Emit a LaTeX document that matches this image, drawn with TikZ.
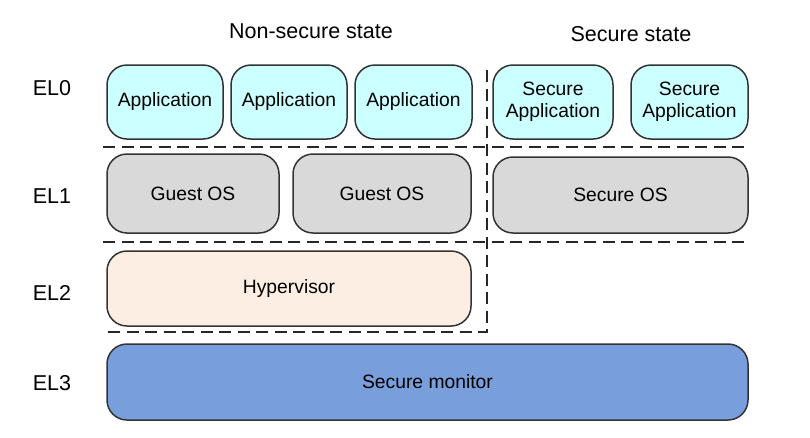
\documentclass[tikz,border=0pt]{standalone}
\usepackage{fontspec}
\setmainfont{Liberation Sans}
\begin{document}
\begin{tikzpicture}[x=1pt,y=-1pt,
  layerbox/.style={draw=black!80, line width=1.5pt, rounded corners=20pt,
    inner sep=0pt, align=center, font=\fontsize{19.3}{22.5}\selectfont},
  appbox/.style={layerbox, fill=appcyan},
  osbox/.style={layerbox, fill=osgray},
  hypbox/.style={layerbox, fill=hypcream},
  monbox/.style={layerbox, fill=monblue},
  divider/.style={draw=black!85, line width=2.2pt, dash pattern=on 12pt off 6.5pt},
  ellabel/.style={font=\fontsize{21.5}{24}\selectfont},
  statelabel/.style={font=\fontsize{21.5}{24}\selectfont}]
\definecolor{appcyan}{HTML}{CCFFFF}
\definecolor{osgray}{HTML}{D9D9D9}
\definecolor{hypcream}{HTML}{FCEEE2}
\definecolor{monblue}{HTML}{789FDC}
\useasboundingbox (0,0) rectangle (810,437);

% state headings
\node[statelabel] (ns) at (311,31) {Non-secure state};
\node[statelabel] (ss) at (631,34) {Secure state};

% exception level labels
\node[ellabel] (el0) at (52,88) {EL0};
\node[ellabel] (el1) at (52,196) {EL1};
\node[ellabel] (el2) at (52,293) {EL2};
\node[ellabel] (el3) at (52,383) {EL3};

% EL0
\node[appbox, minimum width=116pt, minimum height=74pt] (app1) at (165,102) {Application};
\node[appbox, minimum width=116pt, minimum height=74pt] (app2) at (289,102) {Application};
\node[appbox, minimum width=117pt, minimum height=74pt] (app3) at (413.5,102) {Application};
\node[appbox, minimum width=120pt, minimum height=74pt] (sapp1) at (553,102) {Secure\\Application};
\node[appbox, minimum width=117pt, minimum height=74pt] (sapp2) at (689.5,102) {Secure\\Application};

% EL1
\node[osbox, minimum width=172pt, minimum height=79pt] (gos1) at (193,193.5) {Guest OS};
\node[osbox, minimum width=178pt, minimum height=79pt] (gos2) at (382,193.5) {Guest OS};
\node[osbox, minimum width=255pt, minimum height=76pt] (sos) at (620.5,195) {Secure OS};

% EL2
\node[hypbox, minimum width=364pt, minimum height=75pt] (hyp) at (289,288.5) {Hypervisor};

% EL3
\node[monbox, minimum width=641pt, minimum height=76pt] (mon) at (427.5,382) {Secure monitor};

% level and state boundaries
\coordinate (d0l) at (103,147);
\coordinate (d0r) at (748,147);
\coordinate (d1l) at (103,242);
\coordinate (d1r) at (748,242);
\coordinate (d2l) at (103,332);
\coordinate (vtop) at (487,70);
\coordinate (vbot) at (487,332);
\draw[divider] (d0l) -- (d0r);
\draw[divider] (d1l) -- (d1r);
\draw[divider] (vtop) -- (vbot) -- (d2l);
\end{tikzpicture}
\end{document}
